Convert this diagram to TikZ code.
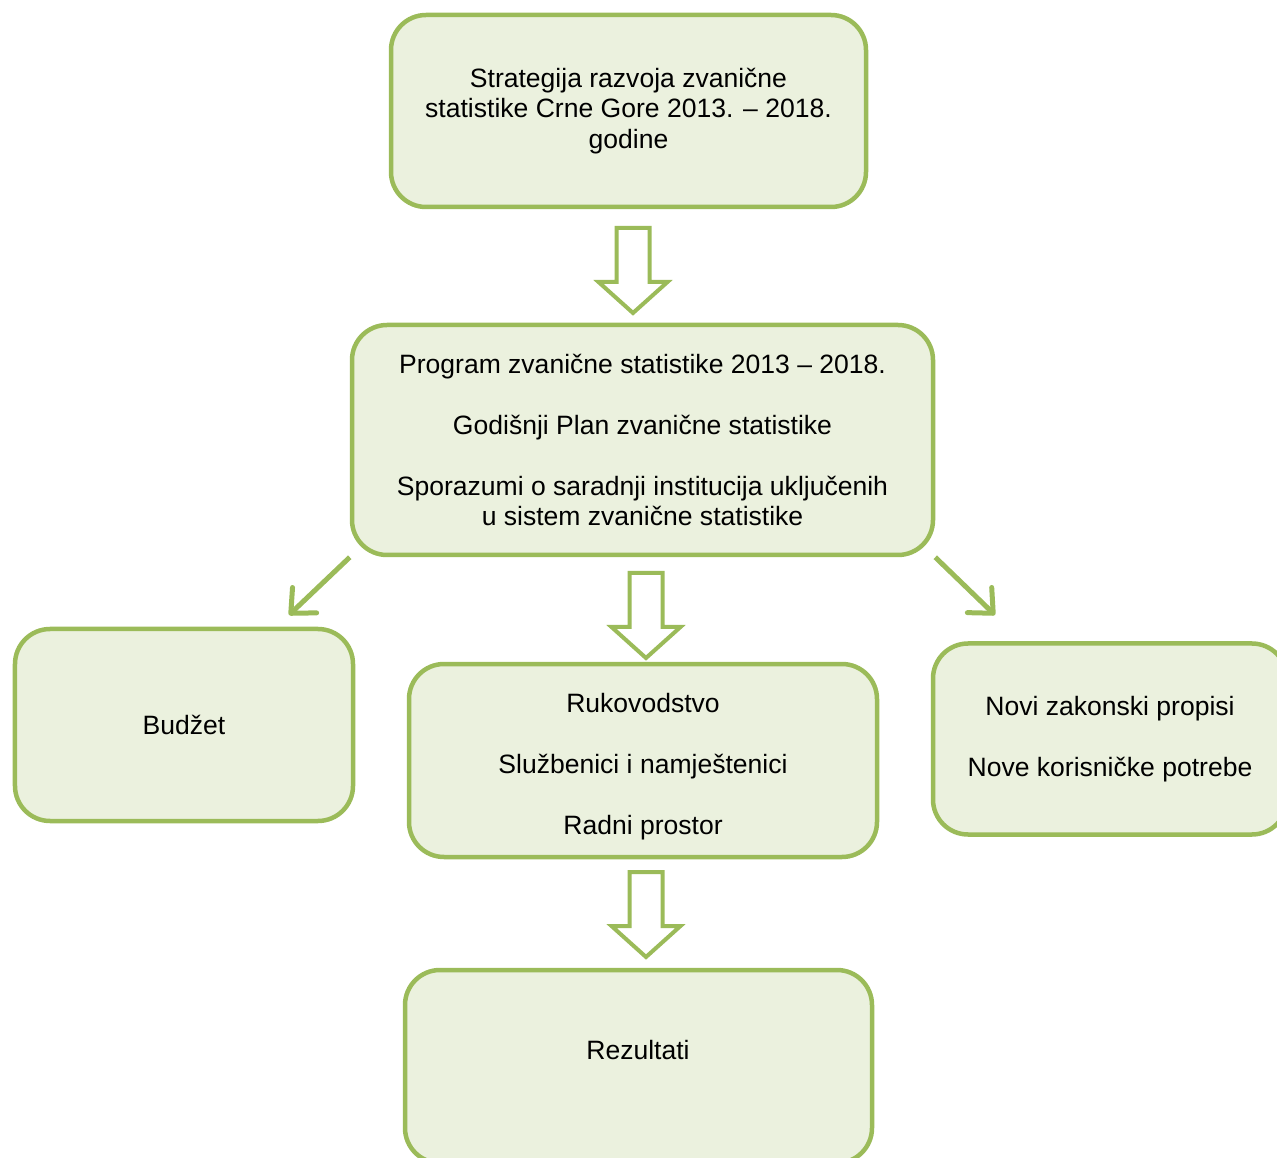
\documentclass[tikz,border=0pt]{standalone}
\usepackage{fontspec}
\setmainfont{Liberation Sans}
\usetikzlibrary{arrows.meta}
\definecolor{okvir}{RGB}{155,187,89}
\definecolor{pozadina}{RGB}{235,241,222}
\newcommand{\blokstrelica}[1]{%
  \draw[blok] (#1) ++(-0.33,0) -- ++(0,-1.08) -- ++(-0.36,0) -- ++(0.69,-0.62)
    -- ++(0.69,0.62) -- ++(-0.36,0) -- ++(0,1.08) -- cycle;}
\begin{document}
\begin{tikzpicture}[
  kutija/.style={draw=okvir, fill=pozadina, line width=0.09cm, rounded corners=0.7cm,
    align=center, inner sep=0pt, font=\fontsize{15.1}{17.3}\selectfont},
  tekst/.style={align=center, inner sep=0pt, font=\fontsize{15.1}{17.3}\selectfont},
  blok/.style={draw=okvir, fill=white, line width=0.08cm},
  kosa/.style={draw=okvir, line width=0.1cm,
    -{Straight Barb[length=3.8mm, width=7mm, round]}}]
\useasboundingbox (0,0) rectangle (25.54,-23.16);
\clip (0,0) rectangle (25.54,-23.16);

\node[kutija, minimum width=9.5cm, minimum height=3.84cm] (strat) at (12.57,-2.22)
  {Strategija razvoja zvanične\\statistike Crne Gore 2013. – 2018.\\godine};

\node[kutija, minimum width=11.62cm, minimum height=4.6cm] (prog) at (12.85,-8.8)
  {Program zvanične statistike 2013 – 2018.\\[17.3pt]
   Godišnji Plan zvanične statistike\\[17.3pt]
   Sporazumi o saradnji institucija uključenih\\u sistem zvanične statistike};

\node[kutija, minimum width=6.76cm, minimum height=3.84cm] (budzet) at (3.68,-14.5)
  {Budžet};

\node[kutija, minimum width=9.36cm, minimum height=3.86cm] (resursi) at (12.86,-15.21) {};
\node[tekst] (resursitekst) at (12.86,-15.33)
  {Rukovodstvo\\[17.3pt]Službenici i namještenici\\[17.3pt]Radni prostor};

\node[kutija, minimum width=7.08cm, minimum height=3.82cm] (propisi) at (22.2,-14.78)
  {Novi zakonski propisi\\[17.3pt]Nove korisničke potrebe};

\node[kutija, minimum width=9.34cm, minimum height=3.86cm] (rez) at (12.77,-21.33) {};
\node[tekst] (reztekst) at (12.76,-21.0) {Rezultati};

\coordinate (s1) at (12.66,-4.56);
\coordinate (s2) at (12.92,-11.46);
\coordinate (s3) at (12.92,-17.44);
\blokstrelica{s1}
\blokstrelica{s2}
\blokstrelica{s3}

\coordinate (lijevo) at (5.78,-12.3);
\coordinate (desno) at (19.9,-12.3);
\draw[kosa] (prog.south west) -- (lijevo);
\draw[kosa] (prog.south east) -- (desno);
\end{tikzpicture}
\end{document}
